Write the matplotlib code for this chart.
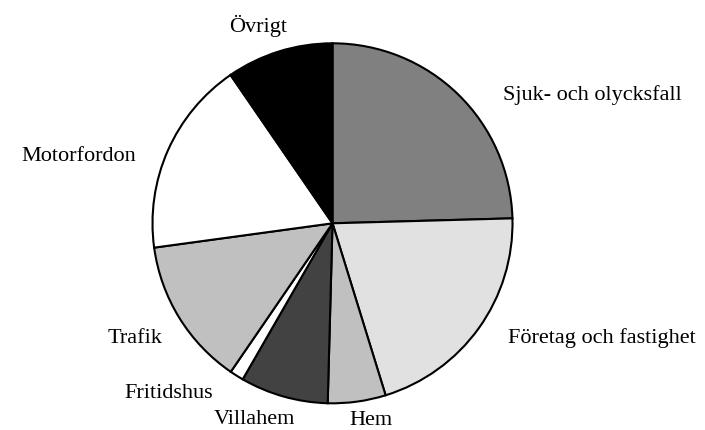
import matplotlib
matplotlib.use('Agg')
import matplotlib.pyplot as plt

labels = ['Sjuk- och olycksfall', 'Företag och fastighet', 'Hem', 'Villahem',
          'Fritidshus', 'Trafik', 'Motorfordon', 'Övrigt']
values = [24.6, 20.7, 5.2, 7.9, 1.25, 13.3, 17.6, 9.6]
colors = ['#808080', '#e1e1e1', '#c0c0c0', '#424242',
          '#ffffff', '#c0c0c0', '#ffffff', '#000000']

# label placement (data coords, pie radius = 1), baseline-anchored
label_pos = [(0.947, 0.685, 'left'), (0.975, -0.663, 'left'), (0.214, -1.122, 'center'),
             (-0.436, -1.115, 'center'), (-0.664, -0.970, 'right'), (-0.947, -0.663, 'right'),
             (-1.092, 0.346, 'right'), (-0.414, 1.063, 'center')]

plt.rcParams['font.family'] = ['Liberation Serif', 'DejaVu Serif']

fig = plt.figure(figsize=(7.05, 4.3), dpi=100)
ax = fig.add_axes([0, 0, 1, 1])
wedges, _ = ax.pie(values, colors=colors, startangle=90, counterclock=False,
                   wedgeprops=dict(edgecolor='black', linewidth=1.5))
for lab, (x, y, ha) in zip(labels, label_pos):
    ax.text(x, y, lab, ha=ha, va='baseline', fontsize=16)

ax.set_xlim(-332.5 / 180, (705 - 332.5) / 180)
ax.set_ylim(-(430 - 223.3) / 180, 223.3 / 180)
ax.set_aspect('auto')
ax.axis('off')
plt.savefig('out.png', dpi=100)
